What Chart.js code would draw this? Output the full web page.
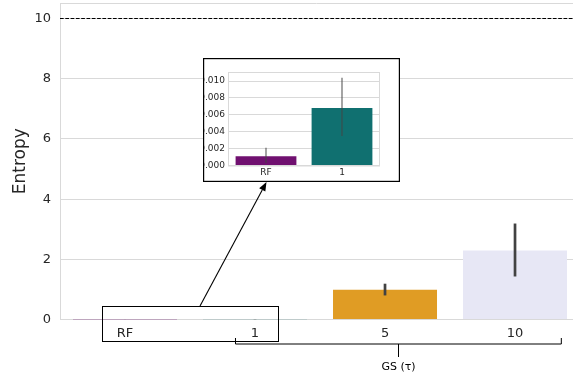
<!DOCTYPE html>
<html>
<head>
<meta charset="utf-8">
<script src="https://cdn.jsdelivr.net/npm/chart.js@4"></script>
<style>
  body { margin: 0; background: #fff; }
  #wrap { position: relative; width: 573px; height: 377px; }
  #main { position: absolute; left: 0; top: 0; }
  #inset { position: absolute; left: 203px; top: 58px; }
</style>
</head>
<body>
<div id="wrap">
  <canvas id="main" width="573" height="377"></canvas>
  <canvas id="inset" width="197" height="124"></canvas>
</div>
<script>
// data
const categories = ['RF', '1', '5', '10'];
const entropy = [0.0011, 0.0068, 0.99, 2.29];
const errLow = [0.0003, 0.0035, 0.80, 1.43];
const errHigh = [0.0021, 0.0104, 1.19, 3.19];
const barColors = ['#701070', '#107070', '#e09c24', '#e7e7f5'];
const yTicks = [0, 2, 4, 6, 8, 10];
const maxEntropy = 10;

const insetCats = categories.slice(0, 2);
const insetVals = entropy.slice(0, 2);
const insetLow = errLow.slice(0, 2);
const insetHigh = errHigh.slice(0, 2);
const insetTicks = [0, 0.002, 0.004, 0.006, 0.008, 0.010];

const FONT = 'DejaVu Sans';
const GRID = '#d9d9d9';

// main chart extras: error bars, dashed max line, zoom box, arrow, bracket
const mainDeco = {
    id: 'mainDeco',
    afterDatasetsDraw(chart) {
        const { ctx, chartArea: a, scales: { x, y } } = chart;
        ctx.save();
        // top spine
        ctx.strokeStyle = GRID; ctx.lineWidth = 1;
        ctx.beginPath(); ctx.moveTo(a.left, a.top + 0.5); ctx.lineTo(a.right, a.top + 0.5); ctx.stroke();
        // error bars
        ctx.strokeStyle = '#424242'; ctx.lineWidth = 2.7; ctx.lineCap = 'butt';
        categories.forEach((c, i) => {
            const px = x.getPixelForValue(i);
            ctx.beginPath();
            ctx.moveTo(px, y.getPixelForValue(errLow[i]));
            ctx.lineTo(px, y.getPixelForValue(errHigh[i]));
            ctx.stroke();
        });
        // dashed max entropy line
        ctx.strokeStyle = '#000'; ctx.lineWidth = 1; ctx.setLineDash([3.7, 1.6]);
        const yl = Math.round(y.getPixelForValue(maxEntropy)) - 0.5;
        ctx.beginPath(); ctx.moveTo(a.left, yl); ctx.lineTo(a.right, yl); ctx.stroke();
        ctx.setLineDash([]);
        ctx.restore();

        ctx.save();
        // zoom box round RF and 1
        const rx0 = x.getPixelForValue(-0.18), rx1 = x.getPixelForValue(1.177);
        const ry0 = y.getPixelForValue(0.45), ry1 = y.getPixelForValue(-0.72);
        ctx.strokeStyle = '#000'; ctx.lineWidth = 1;
        ctx.strokeRect(Math.round(rx0) + 0.5, Math.round(ry0) + 0.5, Math.round(rx1 - rx0), Math.round(ry1 - ry0));
        // arrow to the inset
        const sx = x.getPixelForValue(0.577), sy = Math.round(ry0);
        const ex = 266.5, ey = 182;
        const ang = Math.atan2(ey - sy, ex - sx);
        const hl = 9, hw = 3.5;
        const bx = ex - hl * Math.cos(ang), by = ey - hl * Math.sin(ang);
        ctx.lineWidth = 1.1;
        ctx.beginPath(); ctx.moveTo(sx, sy); ctx.lineTo(bx, by); ctx.stroke();
        ctx.fillStyle = '#000';
        ctx.beginPath();
        ctx.moveTo(ex, ey);
        ctx.lineTo(bx + hw * Math.sin(ang), by - hw * Math.cos(ang));
        ctx.lineTo(bx - hw * Math.sin(ang), by + hw * Math.cos(ang));
        ctx.closePath(); ctx.fill();
        // GS bracket
        const b0 = x.getPixelForValue(0.846), b1 = x.getPixelForValue(3.36);
        const by0 = a.bottom + 24.5;
        ctx.lineWidth = 1;
        ctx.beginPath();
        ctx.moveTo(b0 + 0.5, by0 - 6); ctx.lineTo(b0 + 0.5, by0);
        ctx.lineTo(b1 - 0.5, by0); ctx.lineTo(b1 - 0.5, by0 - 6);
        const bm = Math.round((b0 + b1) / 2) + 0.5;
        ctx.moveTo(bm, by0); ctx.lineTo(bm, by0 + 13);
        ctx.stroke();
        ctx.font = '11px "' + FONT + '"';
        ctx.fillStyle = '#000'; ctx.textAlign = 'center'; ctx.textBaseline = 'middle';
        ctx.fillText('GS (\u03c4)', bm, by0 + 23);
        ctx.restore();
    }
};

try {
    new Chart(document.getElementById('main'), {
        type: 'bar',
        data: {
            datasets: [{
                data: entropy.map((v, i) => ({ x: i, y: v })),
                backgroundColor: barColors,
                barThickness: 104,
                borderWidth: 0,
                inflateAmount: 0
            }]
        },
        options: {
            responsive: false,
            animation: false,
            layout: { padding: { top: 3, right: 0, left: 0, bottom: 0 } },
            plugins: { legend: { display: false }, tooltip: { enabled: false } },
            scales: {
                x: {
                    type: 'linear', min: -0.5, max: 3.446, offset: false,
                    afterBuildTicks: s => { s.ticks = categories.map((c, i) => ({ value: i })); },
                    afterFit: s => { s.height = 57.5; s.paddingLeft = 0; s.paddingRight = 0; },
                    grid: { display: false, drawTicks: false },
                    border: { display: false },
                    ticks: {
                        callback: v => categories[v],
                        font: { family: FONT, size: 13 }, color: '#262626', padding: 6
                    }
                },
                y: {
                    min: 0, max: 10.52,
                    afterBuildTicks: s => { s.ticks = yTicks.map(v => ({ value: v })); },
                    afterFit: s => { s.width = 60; s.paddingTop = 0; s.paddingBottom = 0; },
                    grid: { color: GRID, drawTicks: false },
                    border: { color: GRID },
                    ticks: { font: { family: FONT, size: 13 }, color: '#262626', padding: 9 },
                    title: { display: true, text: 'Entropy', font: { family: FONT, size: 17 }, color: '#262626', padding: { top: 10, bottom: 0 } }
                }
            }
        },
        plugins: [mainDeco]
    });
} catch (e) { console.error('Crash in main chart', e); }

// inset: zoomed RF and GS tau=1
const insetDeco = {
    id: 'insetDeco',
    beforeDraw(chart) {
        const { ctx, width, height } = chart;
        ctx.save(); ctx.fillStyle = '#fff'; ctx.fillRect(0, 0, width, height); ctx.restore();
    },
    afterDatasetsDraw(chart) {
        const { ctx, chartArea: a, scales: { x, y }, width, height } = chart;
        ctx.save();
        ctx.strokeStyle = GRID; ctx.lineWidth = 1;
        ctx.strokeRect(a.left + 0.5, a.top + 0.5, a.right - a.left - 1, a.bottom - a.top);
        ctx.strokeStyle = 'rgba(70,70,70,0.75)'; ctx.lineWidth = 1.3;
        insetCats.forEach((c, i) => {
            const px = x.getPixelForValue(i);
            ctx.beginPath();
            ctx.moveTo(px, y.getPixelForValue(insetLow[i]));
            ctx.lineTo(px, y.getPixelForValue(insetHigh[i]));
            ctx.stroke();
        });
        ctx.strokeStyle = '#000'; ctx.lineWidth = 1.2;
        ctx.strokeRect(0.6, 0.6, width - 1.2, height - 1.2);
        ctx.restore();
    }
};

try {
    new Chart(document.getElementById('inset'), {
        type: 'bar',
        data: {
            labels: insetCats,
            datasets: [{
                data: insetVals,
                backgroundColor: barColors.slice(0, 2),
                categoryPercentage: 1, barPercentage: 0.8,
                borderWidth: 0
            }]
        },
        options: {
            responsive: false,
            animation: false,
            layout: { padding: { top: 14, right: 20, left: 0, bottom: 0 } },
            plugins: { legend: { display: false }, tooltip: { enabled: false } },
            scales: {
                x: {
                    afterFit: s => { s.height = 16.5; s.paddingLeft = 0; s.paddingRight = 0; },
                    grid: { display: false, drawTicks: false },
                    border: { display: false },
                    ticks: { font: { family: FONT, size: 9 }, color: '#262626', padding: 2 }
                },
                y: {
                    min: 0, max: 0.01107,
                    afterBuildTicks: s => { s.ticks = insetTicks.map(v => ({ value: v })); },
                    afterFit: s => { s.width = 25; s.paddingTop = 0; s.paddingBottom = 0; },
                    grid: { color: GRID, drawTicks: false },
                    border: { display: false },
                    ticks: {
                        callback: v => v.toFixed(3),
                        font: { family: FONT, size: 9 }, color: '#262626', padding: 3
                    }
                }
            }
        },
        plugins: [insetDeco]
    });
} catch (e) { console.error('Crash in inset chart', e); }
</script>
</body>
</html>
